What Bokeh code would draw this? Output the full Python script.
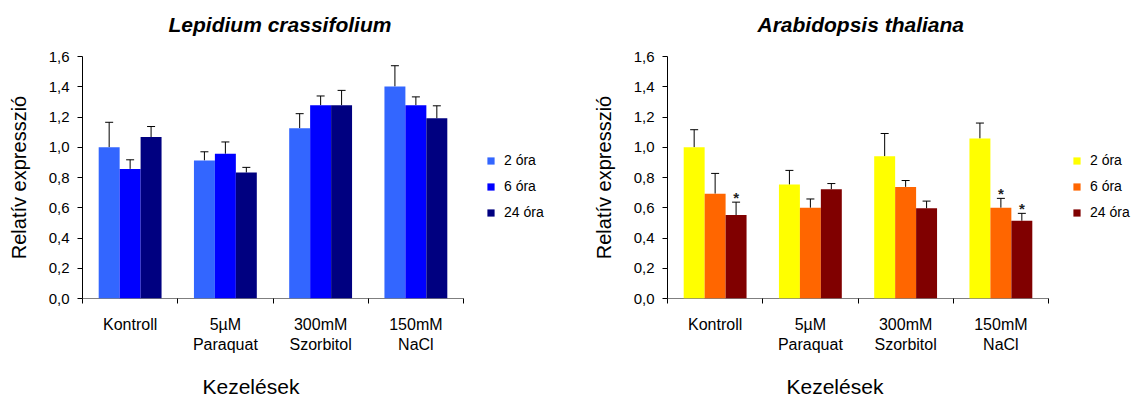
from bokeh.plotting import figure
from bokeh.models import (ColumnDataSource, FixedTicker, CustomJSTickFormatter, Whisker,
                          TeeHead, Legend, LegendItem, Title, Range1d)
from bokeh.layouts import row
from bokeh.embed import file_html
from bokeh.resources import INLINE
from bokeh.core.properties import value

# ---------------- data ----------------
categories = ["Kontroll", "5µM\nParaquat", "300mM\nSzorbitol", "150mM\nNaCl"]
series = ["2 óra", "6 óra", "24 óra"]
y_ticks = [0.0, 0.2, 0.4, 0.6, 0.8, 1.0, 1.2, 1.4, 1.6]

# Lepidium crassifolium
lep_2h = [1.000, 0.913, 1.126, 1.402]
lep_2h_sd = [0.165, 0.057, 0.096, 0.137]
lep_6h = [0.857, 0.957, 1.278, 1.278]
lep_6h_sd = [0.060, 0.078, 0.061, 0.055]
lep_24h = [1.067, 0.833, 1.278, 1.191]
lep_24h_sd = [0.070, 0.034, 0.098, 0.083]
lep_colors = ["#3366FF", "#0000FF", "#000080"]

# Arabidopsis thaliana
ara_2h = [1.000, 0.753, 0.940, 1.058]
ara_2h_sd = [0.116, 0.094, 0.151, 0.102]
ara_6h = [0.693, 0.600, 0.738, 0.600]
ara_6h_sd = [0.134, 0.058, 0.042, 0.062]
ara_24h = [0.552, 0.722, 0.596, 0.514]
ara_24h_sd = [0.085, 0.038, 0.048, 0.049]
ara_2h_sig = [False, False, False, False]
ara_6h_sig = [False, False, False, True]
ara_24h_sig = [True, False, False, True]
ara_colors = ["#FFFF00", "#FF6600", "#800000"]

FONT = "Liberation Sans"
BAR_W = 0.22
DATA_W = 381.0   # pixel width of the category area


def spacer(px):
    return Title(text=" ", text_font_size="1px", standoff=px)


def make_chart(title, vals, sds, sigs, colors, width, border_left,
               title_offset, xlabel_offset, legend_x):
    n = len(categories)
    frame_w = width - border_left
    x_end = n * frame_w / DATA_W
    p = figure(width=width, height=397, x_range=Range1d(0, x_end),
               y_range=Range1d(0, 1.6), output_backend="svg", toolbar_location=None,
               min_border_left=border_left, min_border_right=0,
               min_border_top=56, min_border_bottom=98, title=None)
    p.outline_line_color = None
    p.xgrid.visible = False
    p.ygrid.visible = False
    p.background_fill_color = "white"
    p.border_fill_color = "white"

    # category baseline (x axis line limited to the categories)
    p.segment(x0=[0], y0=[0], x1=[n], y1=[0], line_color="black", line_width=1)

    items = []
    for j, (v, sd, sig, c) in enumerate(zip(vals, sds, sigs, colors)):
        xs = [i + 0.5 + (j - 1) * BAR_W for i in range(n)]
        up = [a + b for a, b in zip(v, sd)]
        src = ColumnDataSource(dict(x=xs, y=v, upper=up))
        r = p.vbar(x="x", top="y", width=BAR_W, source=src, fill_color=c, line_color=None)
        items.append(LegendItem(label=series[j], renderers=[r]))
        w = Whisker(source=src, base="x", lower="y", upper="upper", line_color="black",
                    line_width=1, upper_head=TeeHead(size=8, line_color="black", line_width=1),
                    lower_head=None)
        p.add_layout(w)
        sx = [x for x, s in zip(xs, sig) if s]
        sy = [u for u, s in zip(up, sig) if s]
        if sx:
            p.text(x=sx, y=sy, text=["*"] * len(sx), text_font=value(FONT),
                   text_font_size="15px", text_font_style="bold", text_align="center",
                   text_baseline="alphabetic", y_offset=-5, text_color="#222222")

    # y axis
    ya = p.yaxis[0]
    ya.ticker = FixedTicker(ticks=y_ticks)
    ya.formatter = CustomJSTickFormatter(code="return tick.toFixed(1).replace('.', ',');")
    ya.major_tick_in = 0
    ya.major_tick_out = 5
    ya.minor_tick_line_color = None
    ya.axis_line_color = "black"
    ya.major_tick_line_color = "black"
    ya.major_label_text_font = FONT
    ya.major_label_text_font_size = "15px"
    ya.major_label_text_color = "black"
    ya.major_label_standoff = 8
    ya.axis_label = "Relatív expresszió"
    ya.axis_label_text_font = FONT
    ya.axis_label_text_font_size = "20px"
    ya.axis_label_text_font_style = "normal"
    ya.axis_label_text_color = "black"
    ya.axis_label_standoff = 16

    # x axis
    xa = p.xaxis[0]
    xa.ticker = FixedTicker(ticks=[i + 0.5 for i in range(n)],
                            minor_ticks=list(range(n + 1)))
    xa.formatter = CustomJSTickFormatter(args=dict(labels=categories),
                                         code="return labels[Math.floor(tick)] || '';")
    xa.major_tick_line_color = None
    xa.major_tick_in = 0
    xa.major_tick_out = 0
    xa.minor_tick_in = 0
    xa.minor_tick_out = 5
    xa.minor_tick_line_color = "black"
    xa.axis_line_color = None
    xa.major_label_text_font = FONT
    xa.major_label_text_font_size = "16px"
    xa.major_label_text_color = "black"
    xa.major_label_standoff = 12

    # heading (above) with spacer next to the frame
    p.add_layout(spacer(18), "above")
    p.add_layout(Title(text=title, align="left", offset=title_offset, standoff=0,
                       text_font=FONT, text_font_size="21px", text_font_style="bold italic",
                       text_color="black"), "above")

    # x axis title (below) with spacer after the tick labels
    p.add_layout(spacer(14), "below")
    p.add_layout(Title(text="Kezelések", align="left", offset=xlabel_offset, standoff=0,
                       text_font=FONT, text_font_size="21px", text_font_style="normal",
                       text_color="black"), "below")

    legend = Legend(items=items, location=(legend_x, 78), padding=0, margin=0, spacing=10,
                    label_height=16, glyph_height=9, glyph_width=9, label_standoff=9,
                    border_line_color=None, background_fill_alpha=0,
                    label_text_font=FONT, label_text_font_size="14px",
                    label_text_color="black")
    p.add_layout(legend)
    return p


p1 = make_chart("Lepidium crassifolium", [lep_2h, lep_6h, lep_24h],
                [lep_2h_sd, lep_6h_sd, lep_24h_sd], [[False] * 4] * 3, lep_colors,
                width=588, border_left=82, title_offset=86, xlabel_offset=120,
                legend_x=404)
p2 = make_chart("Arabidopsis thaliana", [ara_2h, ara_6h, ara_24h],
                [ara_2h_sd, ara_6h_sd, ara_24h_sd], [ara_2h_sig, ara_6h_sig, ara_24h_sig],
                ara_colors, width=549, border_left=79, title_offset=90, xlabel_offset=119,
                legend_x=405)

layout = row(p1, p2)
open("out.html", "w").write(file_html(layout, INLINE))
